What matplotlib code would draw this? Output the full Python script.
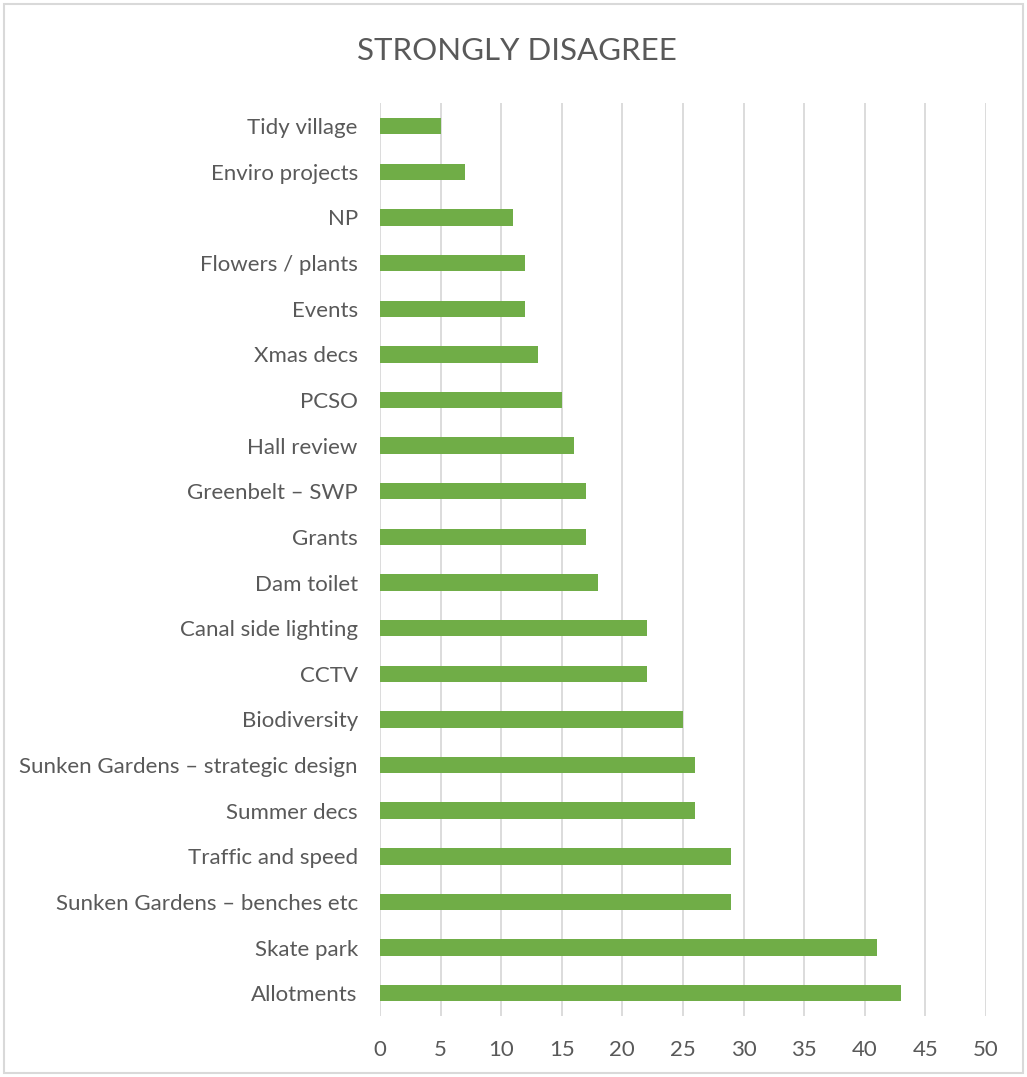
import matplotlib
matplotlib.use('Agg')
import matplotlib.pyplot as plt
from matplotlib.patches import Rectangle

plt.rcParams['font.family'] = ['Lato', 'DejaVu Sans']

# --- Daten ---
categories = [
    'Tidy village', 'Enviro projects', 'NP', 'Flowers / plants', 'Events',
    'Xmas decs', 'PCSO', 'Hall review', 'Greenbelt – SWP', 'Grants',
    'Dam toilet', 'Canal side lighting', 'CCTV', 'Biodiversity',
    'Sunken Gardens – strategic design', 'Summer decs', 'Traffic and speed',
    'Sunken Gardens – benches etc', 'Skate park', 'Allotments',
]
values = [5, 7, 11, 12, 12, 13, 15, 16, 17, 17, 18, 22, 22, 25, 26, 26, 29, 29, 41, 43]
x_ticks = [0, 5, 10, 15, 20, 25, 30, 35, 40, 45, 50]

bar_color = '#70ad47'
text_color = '#595959'
grid_color = '#d9d9d9'

fig = plt.figure(figsize=(10.27, 10.77), dpi=100)
ax = fig.add_axes([0.370, 0.0566, 0.590, 0.8474])

# oberste Kategorie soll oben stehen
ypos = list(range(len(categories)))[::-1]
ax.barh(ypos, values, height=0.36, color=bar_color, zorder=3)

ax.set_xlim(0, 50)
ax.set_ylim(-0.5, len(categories) - 0.5)
ax.set_xticks(x_ticks)
ax.set_yticks(ypos)
ax.set_yticklabels(categories)
ax.tick_params(axis='both', length=0, labelsize=16, labelcolor=text_color)
ax.tick_params(axis='y', pad=16)
ax.tick_params(axis='x', pad=17)
ax.xaxis.grid(True, color=grid_color, linewidth=1.3, zorder=0)
for s in ax.spines.values():
    s.set_visible(False)

fig.text(0.503, 0.953, 'STRONGLY DISAGREE', ha='center', va='center',
         fontsize=22.5, color=text_color)

# Rahmen um das Diagramm
fig.patches.append(Rectangle((0.004, 0.004), 0.992, 0.992, transform=fig.transFigure,
                             fill=False, edgecolor=grid_color, linewidth=1.5))

fig.savefig('out.png', dpi=100)
